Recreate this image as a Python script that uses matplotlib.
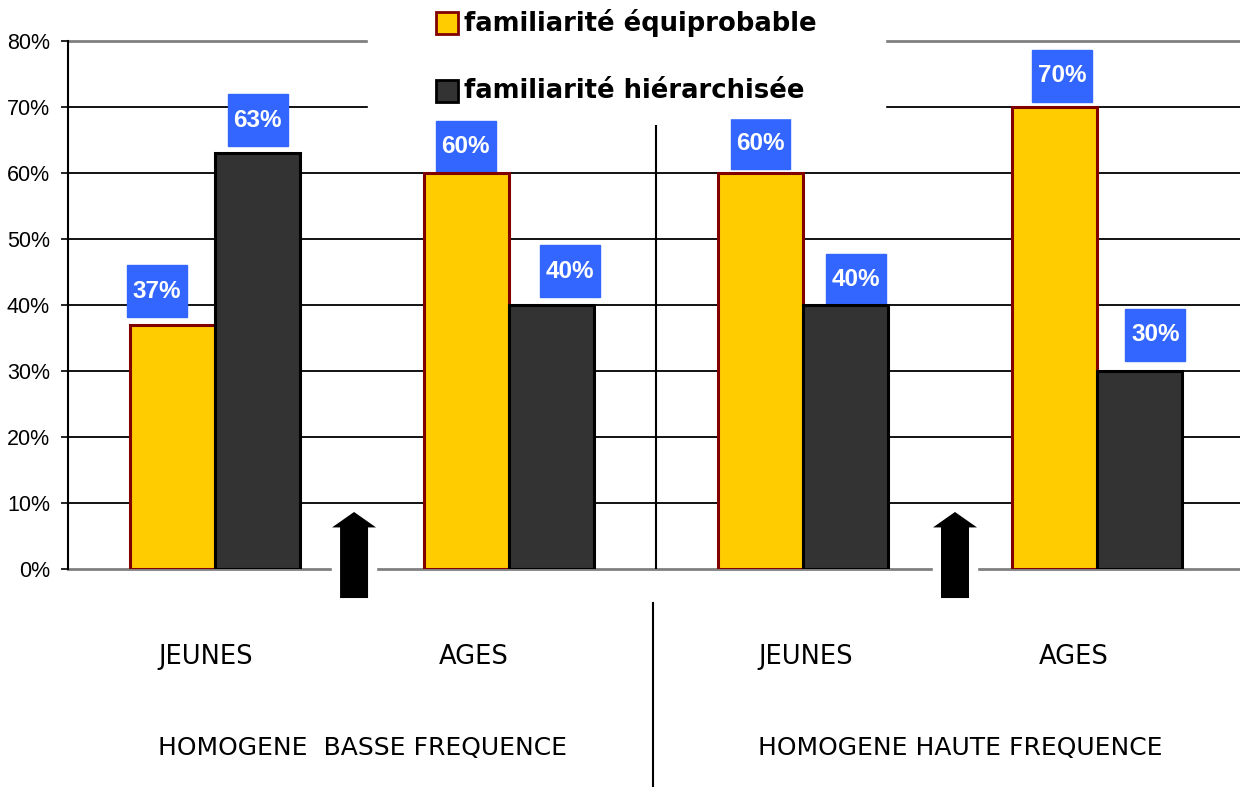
import matplotlib
matplotlib.use('Agg')
import matplotlib.pyplot as plt
import numpy as np
from matplotlib.patches import Rectangle

# data
groups = ['HOMOGENE  BASSE FREQUENCE', 'HOMOGENE HAUTE FREQUENCE']
ages = ['JEUNES', 'AGES', 'JEUNES', 'AGES']
series_names = ['familiarité équiprobable', 'familiarité hiérarchisée']
equiprobable = [37, 60, 60, 70]
hierarchisee = [63, 40, 40, 30]

W, H = 1240, 787
fig = plt.figure(figsize=(W / 100, H / 100), dpi=100)
ax = fig.add_axes([68 / W, (H - 569) / H, (W - 68) / W, (569 - 41) / H])

x = np.arange(len(equiprobable)) + 0.5
w = 85 / 294
yellow, dark, blue = '#FFCC00', '#333333', '#3366FF'

ax.bar(x - w / 2, equiprobable, w, color=yellow, edgecolor='#800000', linewidth=2.2, zorder=3)
ax.bar(x + w / 2, hierarchisee, w, color=dark, edgecolor='black', linewidth=2.2, zorder=3)

ax.set_xlim(0, (W - 68) / 294)
ax.set_ylim(0, 80)
yt = np.arange(0, 81, 10)
ax.set_yticks(yt)
ax.set_yticklabels([f'{v}%' for v in yt], fontsize=15.5, family='Liberation Sans')
ax.tick_params(axis='y', length=5, width=1.2, pad=8)
ax.set_xticks([])
for v in yt:
    if v in (0, 80):
        ax.axhline(v, color='#808080', lw=2, zorder=1, clip_on=False)
    else:
        ax.axhline(v, color='black', lw=1.3, zorder=1)
for s in ['top', 'right', 'bottom']:
    ax.spines[s].set_visible(False)
ax.spines['left'].set_linewidth(1.5)
ax.spines['left'].set_zorder(2)

# value labels (blue boxes)
vals = []
for i in range(len(x)):
    vals.append((x[i] - w / 2, equiprobable[i]))
    vals.append((x[i] + w / 2, hierarchisee[i]))
label_dx = [-0.054, 0, -0.003, 0.064, 0, 0.036, 0.027, 0.054]
label_dy = [5.1, 5, 4, 5.15, 4.5, 3.8, 4.7, 5.5]
bw, bh = 60 / 294, 52 / 6.6
for (bx, v), dx, dy in zip(vals, label_dx, label_dy):
    cx, cy = bx + dx, v + dy
    ax.add_patch(Rectangle((cx - bw / 2, cy - bh / 2), bw, bh, color=blue, zorder=2))
    ax.text(cx, cy, f'{v}%', color='white', fontsize=17.5, fontweight='bold',
            family='Liberation Sans', ha='center', va='center', zorder=4)

# separator line
ax.vlines(2.0, 0, 67.3, color='black', lw=1.5, zorder=2)
fig.add_artist(plt.Line2D([653 / W, 653 / W], [0, (H - 603) / H], color='black', lw=1.5))

# arrows
for xc in [0.973, 3.017]:
    sw, hw = 0.0476, 0.0748
    tip, base, bot = 8.64, 6.3, -4.4
    ax.add_patch(Rectangle((xc - hw, -0.6), 2 * hw, 1.2, color='white', zorder=2, clip_on=False))
    ax.fill([xc - hw - 0.01, xc, xc + hw + 0.01], [base - 0.3, tip + 0.6, base - 0.3],
            color='white', zorder=2, clip_on=False)
    ax.fill([xc - sw, xc - sw, xc - hw, xc, xc + hw, xc + sw, xc + sw],
            [bot, base, base, tip, base, base, bot], color='black',
            lw=0, zorder=3, clip_on=False)

# legend
fig.add_artist(Rectangle((368 / W, 1 - 118 / H), (885 - 368) / W, 118 / H,
                         transform=fig.transFigure, color='white', zorder=5))
for yc, fc, ec, name in [(23, yellow, '#800000', series_names[0]),
                         (91, dark, 'black', series_names[1])]:
    fig.add_artist(Rectangle((436 / W, 1 - (yc + 11) / H), 22 / W, 22 / H,
                             transform=fig.transFigure, facecolor=fc, edgecolor=ec,
                             lw=2, zorder=6))
    fig.text(464 / W, 1 - yc / H, name, fontsize=18.6, fontweight='bold',
             family='DejaVu Sans', va='center', ha='left', zorder=7)

# category labels
for px, lab in zip([206, 474, 806, 1074], ages):
    fig.text(px / W, 1 - 657 / H, lab, fontsize=18.5, family='DejaVu Sans',
             ha='center', va='center')
for px, lab in zip([158, 758], groups):
    fig.text(px / W, 1 - 748 / H, lab, fontsize=18, family='DejaVu Sans',
             ha='left', va='center')

fig.savefig('out.png', dpi=100)
